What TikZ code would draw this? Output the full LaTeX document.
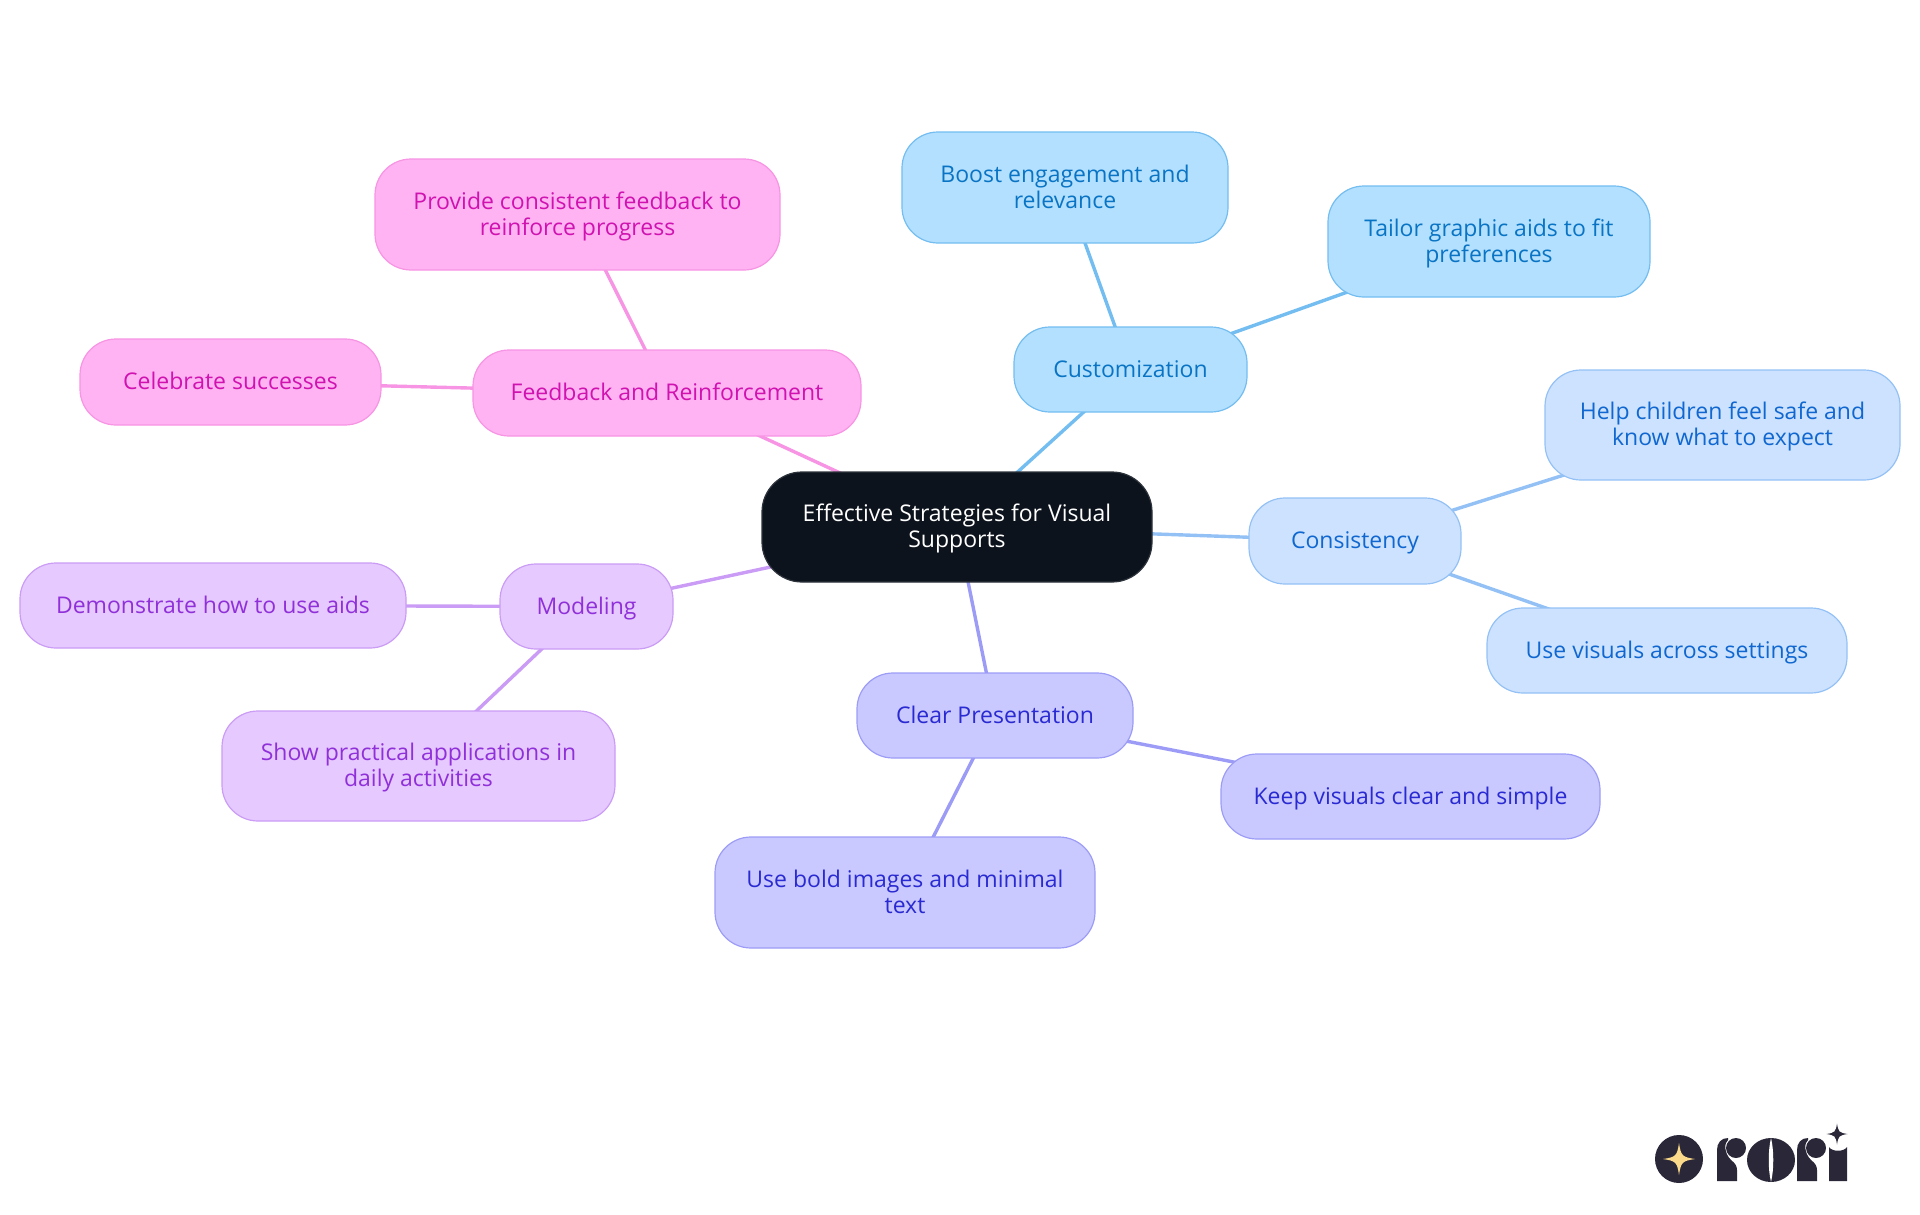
\documentclass[tikz,border=0pt]{standalone}
\usepackage{fontspec}
\setmainfont{Open Sans}
\usetikzlibrary{backgrounds}
\definecolor{rootfill}{HTML}{0D131C}
\definecolor{rootline}{HTML}{2E343C}
\definecolor{cusfill}{HTML}{B3E0FF}\definecolor{cusline}{HTML}{73BDF0}\definecolor{custext}{HTML}{0A74C4}
\definecolor{conffill}{HTML}{CCE2FF}\definecolor{conline}{HTML}{94C1F5}\definecolor{context}{HTML}{1067D0}
\definecolor{clrfill}{HTML}{C9C9FF}\definecolor{clrline}{HTML}{9C9CF7}\definecolor{clrtext}{HTML}{2A2AD2}
\definecolor{modfill}{HTML}{E6C9FF}\definecolor{modline}{HTML}{CB9CF5}\definecolor{modtext}{HTML}{9030D8}
\definecolor{feefill}{HTML}{FFB3F2}\definecolor{feeline}{HTML}{F794E3}\definecolor{feetext}{HTML}{CF12B0}
\definecolor{logodark}{HTML}{2A2838}
\definecolor{logostar}{HTML}{FBD98A}
\tikzset{
  x=1pt,y=-1pt,
  mind/.style={rounded corners=36pt,line width=1.2pt,align=center,inner sep=0pt,
    font=\fontsize{23}{26}\selectfont},
  rootbox/.style={mind,rounded corners=40pt,fill=rootfill,draw=rootline,text=white},
  cusbox/.style={mind,fill=cusfill,draw=cusline,text=custext},
  conbox/.style={mind,fill=conffill,draw=conline,text=context},
  clrbox/.style={mind,fill=clrfill,draw=clrline,text=clrtext},
  modbox/.style={mind,fill=modfill,draw=modline,text=modtext},
  feebox/.style={mind,fill=feefill,draw=feeline,text=feetext},
  link/.style={line width=3.4pt},
}
\newcommand{\topstrut}{\rule{0pt}{22.8pt}}
\newcommand{\botstrut}{\rule[-7.8pt]{0pt}{7.8pt}}
\newcommand{\mnode}[7]{% style,name,x1,y1,x2,y2,text
  \node[#1,minimum width=#5pt-#3pt,minimum height=#6pt-#4pt] (#2) at ({(#3+#5)/2},{(#4+#6)/2}) {\topstrut #7\botstrut};}
\newcommand{\fourstar}[4]{% x,y,r,color
  \fill[#4] (#1-#3,#2) .. controls (#1-#3*0.2,#2-#3*0.12) and (#1-#3*0.12,#2-#3*0.2) .. (#1,#2-#3)
    .. controls (#1+#3*0.12,#2-#3*0.2) and (#1+#3*0.2,#2-#3*0.12) .. (#1+#3,#2)
    .. controls (#1+#3*0.2,#2+#3*0.12) and (#1+#3*0.12,#2+#3*0.2) .. (#1,#2+#3)
    .. controls (#1-#3*0.12,#2+#3*0.2) and (#1-#3*0.2,#2+#3*0.12) .. (#1-#3,#2) -- cycle;}
\newcommand{\logor}[1]{% left x of an r
  \fill[logodark] (#1,1181) -- (#1,1150) .. controls (#1,1143) and (#1+4,1138) .. (#1+11,1138)
    -- (#1+11,1140) .. controls (#1+7,1143) and (#1+7,1153) .. (#1+14,1160) .. controls (#1+18,1163) and (#1+20,1166) .. (#1+20,1170) -- (#1+20,1181) -- cycle;
  \fill[logodark] (#1+19,1148) circle (10);}
\begin{document}
\begin{tikzpicture}
\useasboundingbox (0,0) rectangle (1920,1215);
\mnode{rootbox}{root}{762}{472}{1152}{582}{Effective Strategies for Visual\\Supports}
\mnode{cusbox}{cus}{1014}{327}{1247}{412}{Customization}
\mnode{cusbox}{boost}{902}{132}{1228}{243}{Boost engagement and\\relevance}
\mnode{cusbox}{tailor}{1328}{186}{1650}{297}{Tailor graphic aids to fit\\preferences}
\mnode{conbox}{con}{1249}{498}{1461}{584}{Consistency}
\mnode{conbox}{help}{1545}{370}{1900}{480}{Help children feel safe and\\know what to expect}
\mnode{conbox}{across}{1487}{608}{1847}{693}{Use visuals across settings}
\mnode{clrbox}{clr}{857}{673}{1133}{758}{Clear Presentation}
\mnode{clrbox}{keep}{1221}{754}{1600}{839}{Keep visuals clear and simple}
\mnode{clrbox}{bold}{715}{837}{1095}{948}{Use bold images and minimal\\text}
\mnode{modbox}{mod}{500}{564}{673}{649}{Modeling}
\mnode{modbox}{demo}{20}{563}{406}{648}{Demonstrate how to use aids}
\mnode{modbox}{show}{222}{711}{615}{821}{Show practical applications in\\daily activities}
\mnode{feebox}{fee}{473}{350}{861}{436}{Feedback and Reinforcement}
\mnode{feebox}{cele}{80}{339}{381}{425}{Celebrate successes}
\mnode{feebox}{prov}{375}{159}{780}{270}{Provide consistent feedback to\\reinforce progress}
\begin{scope}[on background layer]
\draw[link,cusline] (root.center) -- (cus.center);
\draw[link,cusline] (cus.center) -- (boost.center);
\draw[link,cusline] (cus.center) -- (tailor.center);
\draw[link,conline] (root.center) -- (con.center);
\draw[link,conline] (con.center) -- (help.center);
\draw[link,conline] (con.center) -- (across.center);
\draw[link,clrline] (root.center) -- (clr.center);
\draw[link,clrline] (clr.center) -- (keep.center);
\draw[link,clrline] (clr.center) -- (bold.center);
\draw[link,modline] (root.center) -- (mod.center);
\draw[link,modline] (mod.center) -- (demo.center);
\draw[link,modline] (mod.center) -- (show.center);
\draw[link,feeline] (root.center) -- (fee.center);
\draw[link,feeline] (fee.center) -- (cele.center);
\draw[link,feeline] (fee.center) -- (prov.center);
\end{scope}
% logo
\fill[logodark] (1679,1159) circle (24);
\fourstar{1679}{1159}{16}{logostar}
\logor{1717}
\fill[logodark] (1771,1160) ellipse (24 and 22);
\fill[white] (1771,1138) .. controls (1768,1150) and (1768,1170) .. (1771,1182) .. controls (1774,1170) and (1774,1150) .. (1771,1138) -- cycle;
\logor{1797}
\fill[logodark] (1829,1181) -- (1829,1147) .. controls (1832,1152) and (1844,1152) .. (1847,1147) -- (1847,1181) -- cycle;
\fourstar{1837}{1134}{10.5}{logodark}
\end{tikzpicture}
\end{document}
